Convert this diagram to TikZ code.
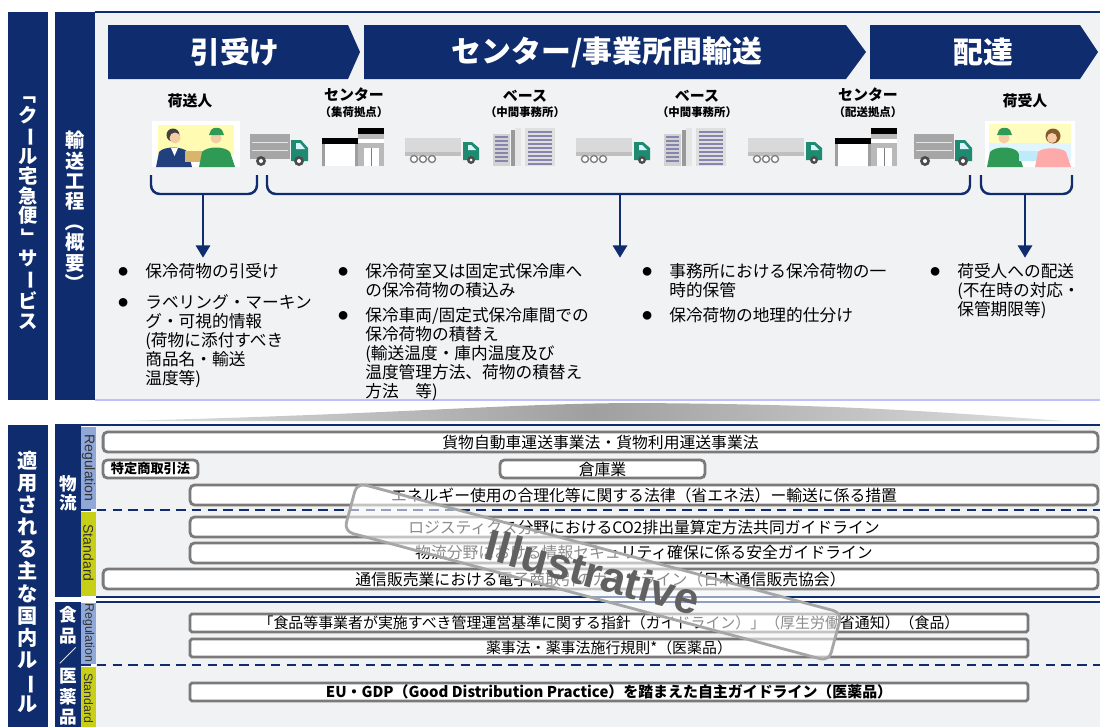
\documentclass[tikz,border=0pt]{standalone}
\usepackage{fontspec}
\setmainfont{Noto Sans CJK JP}
\newfontfamily\latinfont{Liberation Sans}
\usepackage{graphicx}
\usepackage{tikz}
\usetikzlibrary{positioning}
\usetikzlibrary{calc}
\usetikzlibrary{arrows.meta}

\definecolor{navy}{HTML}{0E2C6E}
\definecolor{panel}{HTML}{F1F2F4}
\definecolor{rulegray}{HTML}{7A7A7A}
\definecolor{regblue}{HTML}{8FA8D8}
\definecolor{stdlime}{HTML}{C8CF17}
\definecolor{cabgreen}{HTML}{1E8B70}
\definecolor{cargo}{HTML}{A6A6A6}
\definecolor{skin}{HTML}{F4CDA6}
\definecolor{suit}{HTML}{23407E}
\definecolor{uniform}{HTML}{2E9A55}
\definecolor{parcel}{HTML}{D8B46C}

\newcommand\bul{\makebox[0.54cm][l]{\raisebox{1.2pt}{\fontsize{5.5}{5.5}\selectfont ●}}}
\newcommand\turnchar[1]{\rotatebox[origin=c]{-90}{#1}}

\tikzset{
  truck/.pic={
    \fill[cargo] (0,0) rectangle (40,25);
    \draw[white!70!cargo, line width=0.5pt] (2,8) -- (38,8) (2,16) -- (38,16);
    \fill[cabgreen] (41,6) -- (51,6) -- (58,14) -- (58,27) -- (41,27) -- cycle;
    \fill[cyan!15] (46,9) -- (50,9) -- (55,15) -- (46,15) -- cycle;
    \fill[black!70] (11,27) circle (5) (49,27) circle (5);
    \fill[white] (11,27) circle (2) (49,27) circle (2);
  },
  lorry/.pic={
    \fill[gray!30] (0,0) rectangle (56,18);
    \fill[gray!50] (0,14) rectangle (56,18);
    \filldraw[fill=white, draw=gray, line width=0.8pt] (9,21) circle (3.5) (18,21) circle (3.5) (27,21) circle (3.5);
    \fill[cabgreen] (58,4) -- (67,4) -- (74,10) -- (74,22) -- (58,22) -- cycle;
    \fill[cyan!15] (63,7) -- (66,7) -- (71,12) -- (63,12) -- cycle;
    \fill[black!70] (66,22) circle (4);
    \fill[white] (66,22) circle (1.5);
  },
  depot/.pic={
    \fill[black] (0,10) rectangle (36,16);
    \fill[gray!75] (0,16) rectangle (3,38) (33,16) rectangle (36,38);
    \fill[white] (3,16) rectangle (33,38);
    \fill[gray!55] (36,0) rectangle (62,38);
    \fill[black] (36,0) rectangle (62,6);
    \fill[white] (36,11) rectangle (62,15);
    \fill[white] (42,20) rectangle (57,38);
    \draw[gray] (49.5,20) -- (49.5,38);
  },
  office/.pic={
    \fill[gray!35] (0,6) rectangle (17,38);
    \foreach \yy in {9,13,...,35} \draw[blue!20!gray!80, line width=1.2pt] (2,\yy) -- (15,\yy);
    \fill[gray!80] (18,2) rectangle (22,38);
    \fill[gray!20] (22,0) rectangle (28,38);
    \fill[gray!25] (32,0) rectangle (62,38);
    \foreach \yy in {4,8,...,36} \draw[blue!20!gray!80, line width=1.2pt] (35,\yy) -- (59,\yy);
  },
  shipper/.pic={
    \fill[white] (0,0) rectangle (88,46);
    \fill[yellow!30] (6,4) rectangle (82,34);
    \fill[black!75] (21,14) circle (6.5);
    \fill[skin] (23,17) circle (5.5);
    \fill[suit] (4,46) -- (7,31) .. controls (12,25) and (30,25) .. (36,31) -- (40,46) -- cycle;
    \fill[white] (19,27) -- (26,27) -- (22.5,35) -- cycle;
    \fill[parcel] (33,30) rectangle (55,41);
    \fill[uniform] (47,46) -- (50,31) .. controls (55,25) and (73,25) .. (78,31) -- (83,46) -- cycle;
    \fill[skin] (64,17) circle (5.5);
    \fill[uniform] (57,14) -- (59,9) .. controls (61,6) and (68,6) .. (70,9) -- (72,14) -- cycle;
  },
  consignee/.pic={
    \fill[white] (0,0) rectangle (90,46);
    \fill[yellow!25] (4,3) rectangle (86,22);
    \fill[cyan!12] (4,22) rectangle (86,40);
    \fill[uniform] (2,46) -- (5,31) .. controls (10,25) and (28,25) .. (33,31) -- (38,46) -- cycle;
    \fill[skin] (19,17) circle (5.5);
    \fill[uniform] (12,14) -- (14,9) .. controls (16,6) and (23,6) .. (25,9) -- (27,14) -- cycle;
    \fill[cyan!25] (34,30) rectangle (56,40);
    \fill[brown!70!black] (68,15) circle (7.5);
    \fill[skin] (67,17) circle (5);
    \fill[pink!70!red!70] (50,46) -- (53,31) .. controls (58,26) and (76,26) .. (81,31) -- (86,46) -- cycle;
  }
}

\begin{document}
\begin{tikzpicture}[x=0.02cm, y=-0.02cm,
  bartext/.style={text=white, font=\bfseries\fontsize{11}{11.2}\selectfont, align=center, inner sep=0pt},
  stagetext/.style={text=white, font=\bfseries\fontsize{17}{17}\selectfont},
  station/.style={font=\bfseries\fontsize{8.5}{9}\selectfont, inner sep=0pt},
  note/.style={font=\bfseries\fontsize{6.5}{7}\selectfont, inner sep=0pt},
  brace/.style={draw=navy, line width=1.4pt, rounded corners=5pt},
  flow/.style={draw=navy, line width=1.6pt, -{Triangle[length=7pt, width=8pt]}, shorten >=3pt},
  points/.style={font=\fontsize{9.5}{9.4}\selectfont, anchor=north west, inner sep=0pt},
  tag/.style={font=\latinfont\fontsize{8}{8}\selectfont, text=black!80, inner sep=0pt, rotate=-90},
  rule/.style={draw=rulegray, line width=1.6pt, fill=white, rounded corners=2.5pt, inner sep=0pt,
    minimum height=0.4cm, font=\fontsize{9}{9}\selectfont},
  flatrule/.style={rule, rounded corners=1pt, minimum height=0.36cm, minimum width=16.76cm, font=\fontsize{8.5}{8.5}\selectfont},
  split/.style={draw=navy, line width=0.9pt, dash pattern=on 5.5pt off 3.5pt},
  stamp/.style={draw=gray!70, line width=1.6pt, rounded corners=5pt, fill=white, fill opacity=0.55, text opacity=1,
    text=black!62, minimum width=10.04cm, minimum height=1cm, inner sep=0pt,
    font=\latinfont\bfseries\fontsize{25}{25}\selectfont}
]
\useasboundingbox (0,0) rectangle (1100,727);
\fill[white] (0,0) rectangle (1100,727);

% upper half: the service flow
\fill[navy] (8,12) rectangle (48,400);
\fill[navy] (55,12) rectangle (95,400);
\fill[panel] (95,12) rectangle (1100,400);
\draw[navy, line width=0.8pt] (95,12) -- (1100,12);
\draw[blue!25, line width=1pt] (95,400) -- (1100,400);
\node[bartext] (service) at (28,207) {\turnchar{「}\\ク\\\turnchar{ー}\\ル\\宅\\急\\便\\\turnchar{」}\\サ\\\turnchar{ー}\\ビ\\ス};
\node[bartext, font=\bfseries\fontsize{11}{11.6}\selectfont] (process) at (75,212) {輸\\送\\工\\程\\\turnchar{（}\\概\\要\\\turnchar{）}};

\fill[navy] (108,25) -- (348,25) -- (360,52) -- (348,79) -- (108,79) -- cycle;
\fill[navy] (364,25) -- (846,25) -- (866,52) -- (846,79) -- (364,79) -- cycle;
\fill[navy] (870,25) -- (1080,25) -- (1098,52) -- (1080,79) -- (870,79) -- cycle;
\node[stagetext] (pickup) at (235,52) {引受け};
\node[stagetext] (linehaul) at (607,52) {センター/事業所間輸送};
\node[stagetext] (delivery) at (983,52) {配達};

\node[station] (shipper) at (190,101) {荷送人};
\node[station] (center1) at (354,95) {センター};
\node[note, below=2pt of center1] (center1note) {（集荷拠点）};
\node[station] (base1) at (525,96) {ベース};
\node[note, below=2pt of base1] (base1note) {（中間事務所）};
\node[station] (base2) at (697,96) {ベース};
\node[note, below=2pt of base2] (base2note) {（中間事務所）};
\node[station] (center2) at (868,95) {センター};
\node[note, below=2pt of center2] (center2note) {（配送拠点）};
\node[station] (consignee) at (1025,101) {荷受人};

\pic at (152,121) {shipper};
\pic at (250,134) {truck};
\pic at (322,128) {depot};
\pic at (405,138) {lorry};
\pic at (493,128) {office};
\pic at (576,138) {lorry};
\pic at (664,128) {office};
\pic at (748,138) {lorry};
\pic at (835,128) {depot};
\pic at (914,134) {truck};
\pic at (985,121) {consignee};

\node[points] (col1) at (118,263) {\begin{tabular}{@{}l@{}l@{}}
\bul & 保冷荷物の引受け\\[7pt]
\bul & ラベリング・マーキン\\
 & グ・可視的情報\\
 & (荷物に添付すべき\\
 & 商品名・輸送\\
 & 温度等)
\end{tabular}};
\node[points] (col2) at (338,263) {\begin{tabular}{@{}l@{}l@{}}
\bul & 保冷荷室又は固定式保冷庫へ\\
 & の保冷荷物の積込み\\[3.5pt]
\bul & 保冷車両/固定式保冷庫間での\\
 & 保冷荷物の積替え\\
 & (輸送温度・庫内温度及び\\
 & 温度管理方法、荷物の積替え\\
 & 方法　等)
\end{tabular}};
\node[points] (col3) at (642,263) {\begin{tabular}{@{}l@{}l@{}}
\bul & 事務所における保冷荷物の一\\
 & 時的保管\\[3.5pt]
\bul & 保冷荷物の地理的仕分け
\end{tabular}};
\node[points] (col4) at (930,263) {\begin{tabular}{@{}l@{}l@{}}
\bul & 荷受人への配送\\
 & (不在時の対応・\\
 & 保管期限等)
\end{tabular}};

\coordinate (take) at (203,194);
\coordinate (carry) at (620,194);
\coordinate (hand) at (1025,194);
\draw[brace] (151,175) |- (take) -| (257,175);
\draw[brace] (267,175) |- (carry) -| (970,175);
\draw[brace] (981,175) |- (hand) -| (1072,175);
\draw[flow] (take) -- (take |- col1.north);
\draw[flow] (carry) -- (carry |- col2.north);
\draw[flow] (hand) -- (hand |- col4.north);

% lower half: the rules that apply
\shade[left color=gray!25, right color=gray!25, middle color=gray!75]
  (120,421) .. controls (400,414) and (500,404) .. (630,403) .. controls (850,404) and (950,413) .. (1065,421) -- cycle;

\fill[navy] (8,425) rectangle (48,727);
\node[bartext, font=\bfseries\fontsize{11.5}{12.6}\selectfont] (rules) at (28,582) {適\\用\\さ\\れ\\る\\主\\な\\国\\内\\ル\\\turnchar{ー}\\ル};

\fill[panel] (96,425) rectangle (1100,597);
\fill[panel] (96,602) rectangle (1100,727);
\fill[navy] (55,425) rectangle (81,597);
\fill[navy] (55,602) rectangle (81,727);
\fill[regblue] (81,427) rectangle (96,509);
\fill[stdlime] (81,512) rectangle (96,596);
\fill[regblue] (81,603) rectangle (96,664);
\fill[stdlime] (81,667) rectangle (96,727);
\draw[navy, line width=1pt] (55,425) -- (1100,425);
\draw[navy, line width=1pt] (96,597) -- (1100,597);
\draw[navy, line width=1pt] (96,602) -- (1100,602);
\draw[split] (81,510) -- (1100,510);
\draw[split] (81,665) -- (1100,665);

\node[bartext, font=\bfseries\fontsize{10}{11}\selectfont] (logistics) at (68,493) {物\\流};
\node[bartext, font=\bfseries\fontsize{10}{11.6}\selectfont] (foodpharma) at (68,666) {食\\品\\／\\医\\薬\\品};
\node[tag] (reg1) at (88.5,468) {Regulation};
\node[tag] (std1) at (88.5,553) {Standard};
\node[tag, font=\latinfont\fontsize{7}{7}\selectfont] (reg2) at (88.5,633) {Regulation};
\node[tag, font=\latinfont\fontsize{7}{7}\selectfont] (std2) at (88.5,698) {Standard};

\node[rule, minimum width=19.9cm] (trucklaw) at (600.5,442) {貨物自動車運送事業法・貨物利用運送事業法};
\node[rule, minimum width=1.9cm, minimum height=0.36cm, font=\bfseries\fontsize{7.5}{7.5}\selectfont] (tradelaw) at (150.5,469) {特定商取引法};
\node[rule, minimum width=4.1cm, minimum height=0.36cm] (warehouse) at (602.5,469) {倉庫業};
\node[rule, minimum width=18.16cm] (energy) at (644,495) {エネルギー使用の合理化等に関する法律（省エネ法）ー輸送に係る措置};
\node[rule, minimum width=18.16cm] (co2) at (644,527) {ロジスティクス分野におけるCO2排出量算定方法共同ガイドライン};
\node[rule, minimum width=18.16cm] (security) at (644,553) {物流分野における情報セキュリティ確保に係る安全ガイドライン};
\node[rule, minimum width=19.9cm] (mailorder) at (600.5,579) {通信販売業における電子商取引のガイドライン（日本通信販売協会）};

\node[flatrule] (foodlaw) at (609,623) {「食品等事業者が実施すべき管理運営基準に関する指針（ガイドライン）」（厚生労働省通知）（食品）};
\node[flatrule] (pharmalaw) at (609,648) {薬事法・薬事法施行規則*（医薬品）};
\node[flatrule, font=\bfseries\fontsize{8.5}{8.5}\selectfont] (gdp) at (609,692) {EU・GDP（Good Distribution Practice）を踏まえた自主ガイドライン（医薬品）};

\node[stamp, rotate=-15] (illustrative) at (593,572) {Illustrative};
\end{tikzpicture}
\end{document}
